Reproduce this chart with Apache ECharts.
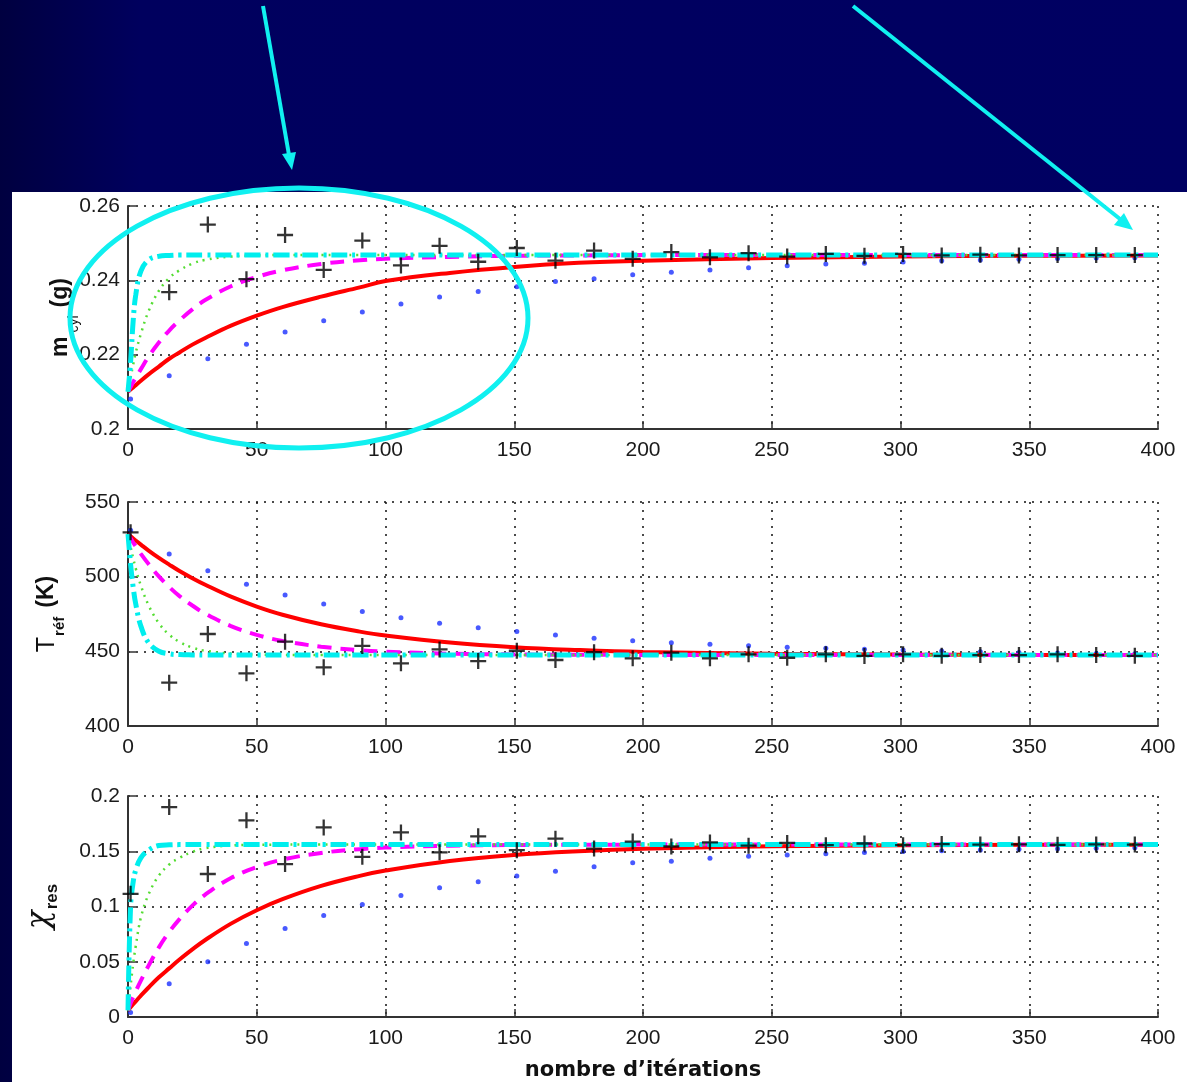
<!DOCTYPE html>
<html>
<head>
<meta charset="utf-8">
<title>convergence</title>
<script src="https://cdn.jsdelivr.net/npm/echarts@6/dist/echarts.min.js"></script>
<style>
  html, body { margin: 0; padding: 0; }
  body {
    width: 1187px; height: 1082px; overflow: hidden;
    background: linear-gradient(to right, #000040 0, #00005e 140px, #000062 100%);
  }
  .sheet { position: absolute; left: 12px; top: 192px; width: 1175px; height: 890px; background: #fff; }
  #chart { position: absolute; left: 0; top: 0; width: 1187px; height: 1082px; }
</style>
</head>
<body>
<div class="sheet"></div>
<div id="chart"></div>
<script>
// iterations where the + and . markers sit
const sampleIters = [1, 16, 31, 46, 61, 76, 91, 106, 121, 136, 151, 166, 181, 196, 211, 226, 241, 256, 271, 286, 301, 316, 331, 346, 361, 376, 391];
// iterations where the curves were read
const curveIters = [0, 1, 2, 3, 5, 8, 12, 16, 20, 25, 30, 40, 50, 60, 75, 90, 100, 125, 150, 175, 200, 250, 300, 350, 400];

// m_cyl (g)
const mPlus = [null, 0.2368, 0.2550, 0.2403, 0.2522, 0.2428, 0.2507, 0.2440, 0.2493, 0.2450, 0.2487, 0.2453, 0.2480, 0.2458, 0.2476, 0.2462, 0.2473, 0.2464, 0.2471, 0.2466, 0.2471, 0.2467, 0.2469, 0.2467, 0.2468, 0.2468, 0.2468];
const mDots = [0.2081, 0.2143, 0.2189, 0.2228, 0.2261, 0.2291, 0.2315, 0.2336, 0.2355, 0.2370, 0.2383, 0.2397, 0.2404, 0.2415, 0.2422, 0.2428, 0.2434, 0.2439, 0.2444, 0.2446, 0.2449, 0.2453, 0.2455, 0.2457, 0.2459, 0.2460, 0.2461];
const mRed = [0.2100, 0.2106, 0.2112, 0.2118, 0.2130, 0.2147, 0.2168, 0.2189, 0.2206, 0.2227, 0.2245, 0.2278, 0.2305, 0.2328, 0.2356, 0.2381, 0.2398, 0.2420, 0.2436, 0.2447, 0.2453, 0.2460, 0.2464, 0.2466, 0.2467];
const mMagenta = [0.2100, 0.2113, 0.2126, 0.2138, 0.2161, 0.2195, 0.2233, 0.2265, 0.2292, 0.2322, 0.2347, 0.2384, 0.2409, 0.2427, 0.2444, 0.2454, 0.2458, 0.2463, 0.2466, 0.2467, 0.2468, 0.2468, 0.2468, 0.2468, 0.2468];
const mGreen = [0.2100, 0.2138, 0.2173, 0.2205, 0.2256, 0.2317, 0.2372, 0.2406, 0.2427, 0.2445, 0.2455, 0.2464, 0.2467, 0.2468, 0.2468, 0.2468, 0.2468, 0.2468, 0.2468, 0.2468, 0.2468, 0.2468, 0.2468, 0.2468, 0.2468];
const mCyan = [0.2100, 0.2180, 0.2290, 0.2360, 0.2425, 0.2455, 0.2465, 0.2467, 0.2468, 0.2468, 0.2468, 0.2468, 0.2468, 0.2468, 0.2468, 0.2468, 0.2468, 0.2468, 0.2468, 0.2468, 0.2468, 0.2468, 0.2468, 0.2468, 0.2468];

// T_ref (K)
const tPlus = [529.7, 429.0, 461.6, 435.3, 456.5, 439.3, 453.6, 442.0, 451.3, 443.5, 450.4, 444.2, 449.4, 445.3, 449.1, 445.3, 448.0, 445.7, 448.0, 446.9, 448.0, 447.0, 447.5, 447.5, 448.0, 447.5, 447.0];
const tDots = [531.0, 515.2, 504.0, 495.0, 487.7, 481.7, 476.6, 472.5, 468.8, 465.8, 463.2, 460.9, 458.7, 457.1, 455.8, 454.7, 453.8, 452.7, 452.0, 451.4, 450.9, 450.3, 449.8, 449.3, 448.9, 448.6, 448.3];
const tRed = [528.5, 527.0, 525.6, 524.2, 521.5, 517.5, 512.6, 508.1, 503.8, 499.0, 494.6, 486.6, 480.0, 474.5, 468.1, 463.2, 460.6, 455.9, 452.8, 450.9, 449.6, 448.4, 447.8, 447.6, 447.5];
const tMagenta = [528.5, 525.7, 522.9, 520.3, 515.3, 508.4, 500.2, 493.1, 487.0, 480.7, 475.2, 466.9, 461.0, 457.0, 453.1, 450.8, 449.8, 448.4, 447.9, 447.7, 447.6, 447.5, 447.5, 447.5, 447.5];
const tGreen = [528.5, 520.0, 512.4, 505.5, 494.0, 480.8, 468.8, 461.2, 456.3, 452.5, 450.4, 448.5, 447.8, 447.6, 447.5, 447.5, 447.5, 447.5, 447.5, 447.5, 447.5, 447.5, 447.5, 447.5, 447.5];
const tCyan = [528.5, 508.3, 493.1, 481.8, 466.9, 455.7, 450.1, 448.3, 447.8, 447.6, 447.5, 447.5, 447.5, 447.5, 447.5, 447.5, 447.5, 447.5, 447.5, 447.5, 447.5, 447.5, 447.5, 447.5, 447.5];

// chi_res
const xPlus = [0.1115, 0.1900, 0.1294, 0.1780, 0.1384, 0.1716, 0.1450, 0.1670, 0.1490, 0.1635, 0.1510, 0.1614, 0.1524, 0.1588, 0.1543, 0.1580, 0.1550, 0.1575, 0.1555, 0.1570, 0.1555, 0.1565, 0.1560, 0.1563, 0.1558, 0.1562, 0.1560];
const xDots = [0.0040, 0.0300, 0.0500, 0.0666, 0.0800, 0.0918, 0.1017, 0.1100, 0.1170, 0.1223, 0.1277, 0.1320, 0.1360, 0.1396, 0.1410, 0.1437, 0.1455, 0.1466, 0.1478, 0.1488, 0.1497, 0.1505, 0.1512, 0.1518, 0.1523, 0.1528, 0.1532];
const xRed = [0.0060, 0.0088, 0.0115, 0.0141, 0.0193, 0.0267, 0.0359, 0.0440, 0.0520, 0.0612, 0.0697, 0.0845, 0.0966, 0.1066, 0.1186, 0.1277, 0.1325, 0.1412, 0.1467, 0.1501, 0.1523, 0.1545, 0.1554, 0.1558, 0.1559];
const xMagenta = [0.0060, 0.0125, 0.0180, 0.0232, 0.0330, 0.0465, 0.0630, 0.0769, 0.0886, 0.1008, 0.1108, 0.1257, 0.1357, 0.1424, 0.1485, 0.1519, 0.1533, 0.1550, 0.1556, 0.1559, 0.1560, 0.1560, 0.1560, 0.1560, 0.1560];
const xGreen = [0.0060, 0.0280, 0.0480, 0.0640, 0.0900, 0.1110, 0.1280, 0.1380, 0.1440, 0.1495, 0.1528, 0.1552, 0.1558, 0.1560, 0.1560, 0.1560, 0.1560, 0.1560, 0.1560, 0.1560, 0.1560, 0.1560, 0.1560, 0.1560, 0.1560];
const xCyan = [0.0060, 0.1000, 0.1220, 0.1330, 0.1440, 0.1510, 0.1552, 0.1558, 0.1560, 0.1560, 0.1560, 0.1560, 0.1560, 0.1560, 0.1560, 0.1560, 0.1560, 0.1560, 0.1560, 0.1560, 0.1560, 0.1560, 0.1560, 0.1560, 0.1560];

const xTicks = { min: 0, max: 400, interval: 50 };
const yTicks = [
  { min: 0.2, max: 0.26, interval: 0.02 },
  { min: 400, max: 550, interval: 50 },
  { min: 0, max: 0.2, interval: 0.05 },
];

const FONT = "Liberation Sans, Arial, sans-serif";
const plusPath = "path://M6,0H8V6H14V8H8V14H6V8H0V6H6Z";

const pairs = (xs, ys) => xs.map((x, i) => [x, ys[i]]).filter((p) => p[1] != null);

const panels = [
  { plus: mPlus, dots: mDots, red: mRed, magenta: mMagenta, green: mGreen, cyan: mCyan },
  { plus: tPlus, dots: tDots, red: tRed, magenta: tMagenta, green: tGreen, cyan: tCyan },
  { plus: xPlus, dots: xDots, red: xRed, magenta: xMagenta, green: xGreen, cyan: xCyan },
];

const grids = [
  { left: 128, top: 206, width: 1030, height: 223 },
  { left: 128, top: 502, width: 1030, height: 224 },
  { left: 128, top: 796, width: 1030, height: 223 },
];

const axisLine = { show: true, onZero: false, lineStyle: { color: "#333", width: 2 } };
const axisTick = { show: true, inside: true, length: 8, lineStyle: { color: "#333", width: 1.5 } };
const splitLine = { show: true, lineStyle: { color: "#111", width: 1.5, type: [2, 6] } };
const yLabel = { fontSize: 21, color: "#1a1a1a", fontFamily: FONT, margin: 8 };
const xLabel = { fontSize: 21, color: "#1a1a1a", fontFamily: FONT, margin: 11 };

const yNames = [
  {
    name: "{b|m}{s|cyl}{b|(g)}",
    gap: 47,
    rich: {
      b: { fontSize: 23, fontWeight: "bold", fontFamily: FONT, color: "#111", lineHeight: 40, verticalAlign: "middle" },
      s: { fontSize: 14, fontFamily: FONT, color: "#111", lineHeight: 40, verticalAlign: "bottom", padding: [0, 8, 0, 4] },
    },
  },
  {
    name: "{n|T}{s|réf}{b|(K)}",
    gap: 61,
    rich: {
      n: { fontSize: 25, fontFamily: FONT, color: "#111", lineHeight: 40, verticalAlign: "middle" },
      b: { fontSize: 23, fontWeight: "bold", fontFamily: FONT, color: "#111", lineHeight: 40, verticalAlign: "middle" },
      s: { fontSize: 15, fontWeight: "bold", fontFamily: FONT, color: "#111", lineHeight: 40, verticalAlign: "bottom", padding: [0, 9, 0, 1] },
    },
  },
  {
    name: "{g|χ}{s|res}",
    gap: 67,
    rich: {
      g: { fontSize: 31, fontFamily: "DejaVu Serif, serif", fontStyle: "italic", color: "#111", lineHeight: 42, verticalAlign: "middle" },
      s: { fontSize: 17, fontWeight: "bold", fontFamily: FONT, color: "#111", lineHeight: 42, verticalAlign: "bottom", padding: [0, 0, 0, 1] },
    },
  },
];

const xAxes = grids.map((g, i) => ({
  type: "value",
  gridIndex: i,
  ...xTicks,
  axisLine, axisTick, splitLine,
  axisLabel: xLabel,
  name: i === 2 ? "nombre d’itérations" : "",
  nameLocation: "middle",
  nameGap: 43,
  nameMoveOverlap: false,
  nameTextStyle: { fontSize: 21, fontWeight: "bold", color: "#111", fontFamily: "DejaVu Sans, Verdana, sans-serif" },
}));

const yAxes = grids.map((g, i) => ({
  type: "value",
  gridIndex: i,
  ...yTicks[i],
  axisLine, axisTick, splitLine,
  axisLabel: yLabel,
  name: yNames[i].name,
  nameLocation: "middle",
  nameRotate: 90,
  nameGap: yNames[i].gap,
  nameMoveOverlap: false,
  nameTextStyle: { rich: yNames[i].rich },
}));

const series = [];
panels.forEach((p, i) => {
  const base = { xAxisIndex: i, yAxisIndex: i, animation: false };
  series.push({
    ...base, type: "scatter", name: "dots", z: 2,
    symbol: "circle", symbolSize: 5,
    itemStyle: { color: "#1a30ff" },
    data: pairs(sampleIters, p.dots),
  });
  const curve = (name, values, color, width, type, z) => ({
    ...base, type: "line", name, z,
    smooth: 0.4, showSymbol: false,
    lineStyle: { color, width, type },
    data: pairs(curveIters, values),
  });
  series.push(curve("red", p.red, "#ff0000", 4, "solid", 3));
  series.push(curve("magenta", p.magenta, "#ff00ff", 4, [14, 9], 4));
  series.push(curve("green", p.green, "#55dd33", 2.5, [2, 5], 5));
  series.push(curve("cyan", p.cyan, "#00eeee", 5, [16, 5, 3, 5], 6));
  series.push({
    ...base, type: "scatter", name: "plus", z: 7,
    symbol: plusPath, symbolSize: 16, symbolKeepAspect: true,
    itemStyle: { color: "#000" },
    data: pairs(sampleIters, p.plus),
  });
});

const cyanMark = "#10f0f0";
const graphic = [
  {
    type: "ellipse", z: 100,
    shape: { cx: 299, cy: 318, rx: 229, ry: 130 },
    style: { fill: null, stroke: cyanMark, lineWidth: 5 },
  },
  {
    type: "line", z: 100,
    shape: { x1: 263, y1: 6, x2: 289, y2: 155 },
    style: { stroke: cyanMark, lineWidth: 4 },
  },
  {
    type: "polygon", z: 100,
    shape: { points: [[292, 170], [282, 154], [296, 152]] },
    style: { fill: cyanMark },
  },
  {
    type: "line", z: 100,
    shape: { x1: 853, y1: 6, x2: 1120, y2: 219 },
    style: { stroke: cyanMark, lineWidth: 4 },
  },
  {
    type: "polygon", z: 100,
    shape: { points: [[1133, 230], [1114, 225], [1124, 213]] },
    style: { fill: cyanMark },
  },
];

const chart = echarts.init(document.getElementById("chart"), null, { renderer: "canvas" });
chart.setOption({
  backgroundColor: "transparent",
  animation: false,
  grid: grids,
  xAxis: xAxes,
  yAxis: yAxes,
  series,
  graphic,
});
</script>
</body>
</html>
